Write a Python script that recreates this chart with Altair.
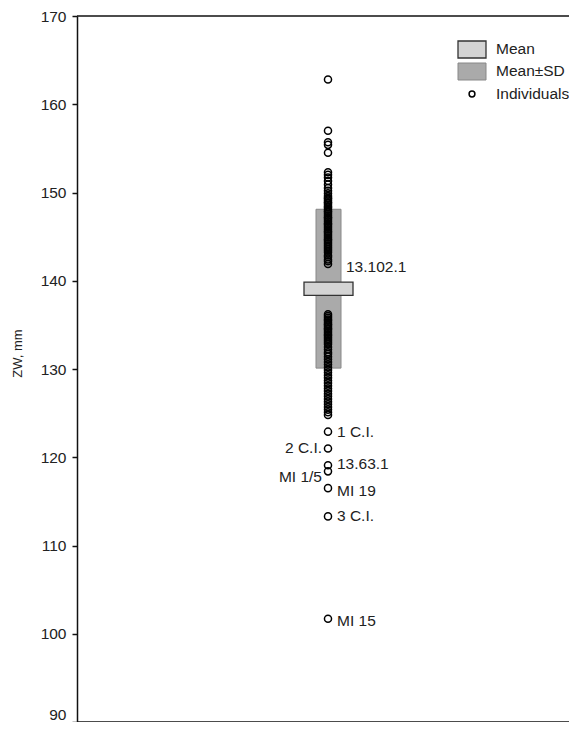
import altair as alt
import pandas as pd

# Individual ZW values (mm)
individuals = [
    162.8, 157.0, 155.7, 155.4, 154.5,
    152.3, 152.0, 151.7, 151.3, 150.9, 150.5, 150.2, 149.9,
    149.6, 149.4, 149.3, 149.1, 148.9, 148.8, 148.6, 148.4, 148.3, 148.1,
    147.9, 147.8, 147.6, 147.4, 147.2, 147.1, 146.9, 146.7, 146.5, 146.4,
    146.2, 146.0, 145.8, 145.6, 145.5, 145.3, 145.1, 144.9, 144.7, 144.6,
    144.4, 144.2, 144.0, 143.8, 143.6, 143.4, 143.2, 142.9, 142.7, 142.4,
    142.2, 141.9,
    136.2, 136.0, 135.8, 135.6, 135.5, 135.3, 135.1, 135.0, 134.8, 134.6,
    134.5, 134.3, 134.1, 133.9, 133.8, 133.6, 133.4, 133.2, 133.0, 132.8,
    132.5, 132.2, 131.9, 131.7, 131.4, 131.1, 130.8, 130.5, 130.2, 129.9,
    129.6, 129.3, 129.0, 128.7, 128.4, 128.1, 127.8, 127.5, 127.2, 126.9,
    126.6, 126.3, 126.0, 125.7, 125.4, 125.1, 124.8,
    122.9, 121.0, 119.1, 118.4, 116.5, 113.3, 101.7,
]

mean_value = 139.1
mean_half = 0.75
sd_value = 9.0

right_labels = ["1 C.I.", "13.63.1", "MI 19", "3 C.I.", "MI 15"]
right_label_y = [122.9, 119.2, 116.2, 113.3, 101.5]
left_labels = ["2 C.I.", "MI 1/5"]
left_label_y = [121.0, 117.8]
center_label = ["13.102.1"]
center_label_y = [141.6]

legend_names = ["Mean", "Mean\u00b1SD", "Individuals"]
tick_values = [90, 100, 110, 120, 130, 140, 150, 160, 170]

FONT = "Liberation Sans"
W, H = 492, 706

yscale = alt.Scale(domain=[90, 170], nice=False, zero=False)
yaxis = alt.Axis(values=tick_values, grid=False,
                 title="ZW, mm", titleFont=FONT, titleFontSize=13, titleFontWeight="normal",
                 titleColor="#222", titleY=337, titleX=-53,
                 labelFont=FONT, labelFontSize=15.5, labelColor="#222", labelPadding=6,
                 labelBaseline=alt.condition("datum.value == 90", alt.value("bottom"), alt.value("middle")),
                 tickSize=5, tickColor="#111", domainColor="#111", tickWidth=1.5, domainWidth=1.5)

pts = pd.DataFrame({"v": individuals})
stats = pd.DataFrame({
    "sd_lo": [mean_value - sd_value], "sd_hi": [mean_value + sd_value],
    "m_lo": [mean_value - mean_half], "m_hi": [mean_value + mean_half],
})

sd_box = alt.Chart(stats).mark_rect(fill="#aaaaaa", stroke="#888888", strokeWidth=1).encode(
    x=alt.value(239), x2=alt.value(264),
    y=alt.Y("sd_lo:Q", scale=yscale, axis=yaxis), y2="sd_hi:Q")

points = alt.Chart(pts).mark_point(shape="circle", filled=False, color="black",
                                   size=50, strokeWidth=1.5, opacity=1).encode(
    x=alt.value(251), y=alt.Y("v:Q", scale=yscale))

mean_box = alt.Chart(stats).mark_rect(fill="#d4d4d4", stroke="#333333", strokeWidth=1.3).encode(
    x=alt.value(227), x2=alt.value(276),
    y=alt.Y("m_lo:Q", scale=yscale), y2="m_hi:Q")

LBL = 15.5
rl = alt.Chart(pd.DataFrame({"t": right_labels, "v": right_label_y})).mark_text(
    align="left", baseline="middle", font=FONT, fontSize=LBL, color="#222").encode(
    x=alt.value(260), y=alt.Y("v:Q", scale=yscale), text="t:N")

ll = alt.Chart(pd.DataFrame({"t": left_labels, "v": left_label_y})).mark_text(
    align="right", baseline="middle", font=FONT, fontSize=LBL, color="#222").encode(
    x=alt.value(245), y=alt.Y("v:Q", scale=yscale), text="t:N")

cl = alt.Chart(pd.DataFrame({"t": center_label, "v": center_label_y})).mark_text(
    align="left", baseline="middle", font=FONT, fontSize=LBL, color="#222").encode(
    x=alt.value(269), y=alt.Y("v:Q", scale=yscale), text="t:N")

frame_df = pd.DataFrame({"k": [0]})
top_line = alt.Chart(frame_df).mark_rule(color="#111", strokeWidth=1.6).encode(
    x=alt.value(0), x2=alt.value(W), y=alt.value(0))
bottom_line = alt.Chart(frame_df).mark_rule(color="#111", strokeWidth=1.6).encode(
    x=alt.value(0), x2=alt.value(W), y=alt.value(H))

# legend
leg_df = pd.DataFrame({"name": legend_names})
leg_mean = alt.Chart(leg_df).transform_filter(alt.datum.name == legend_names[0]).mark_rect(
    fill="#d4d4d4", stroke="#333333", strokeWidth=1.3).encode(
    x=alt.value(381), x2=alt.value(409), y=alt.value(25), y2=alt.value(42))
leg_sd = alt.Chart(leg_df).transform_filter(alt.datum.name == legend_names[1]).mark_rect(
    fill="#aaaaaa", stroke="#888888", strokeWidth=1).encode(
    x=alt.value(381), x2=alt.value(409), y=alt.value(47), y2=alt.value(64))
leg_ind = alt.Chart(leg_df).transform_filter(alt.datum.name == legend_names[2]).mark_point(
    shape="circle", filled=False, color="black", size=34, strokeWidth=1.5, opacity=1).encode(
    x=alt.value(395), y=alt.value(78))

def leg_label(i, ypix):
    return alt.Chart(leg_df).transform_filter(alt.datum.name == legend_names[i]).mark_text(
        align="left", baseline="middle", font=FONT, fontSize=15.5, color="#222").encode(
        x=alt.value(419), y=alt.value(ypix), text="name:N")

chart = alt.layer(
    sd_box, points, mean_box, rl, ll, cl, top_line, bottom_line,
    leg_mean, leg_sd, leg_ind, leg_label(0, 33), leg_label(1, 55), leg_label(2, 78)
).properties(
    width=W, height=H,
    autosize=alt.AutoSizeParams(type="none"),
    padding={"left": 69, "top": 8, "right": 0, "bottom": 0},
).configure_view(stroke=None).configure_axis(labelFont=FONT)

chart.save("out.html", embed_options={"renderer": "svg", "actions": False})
